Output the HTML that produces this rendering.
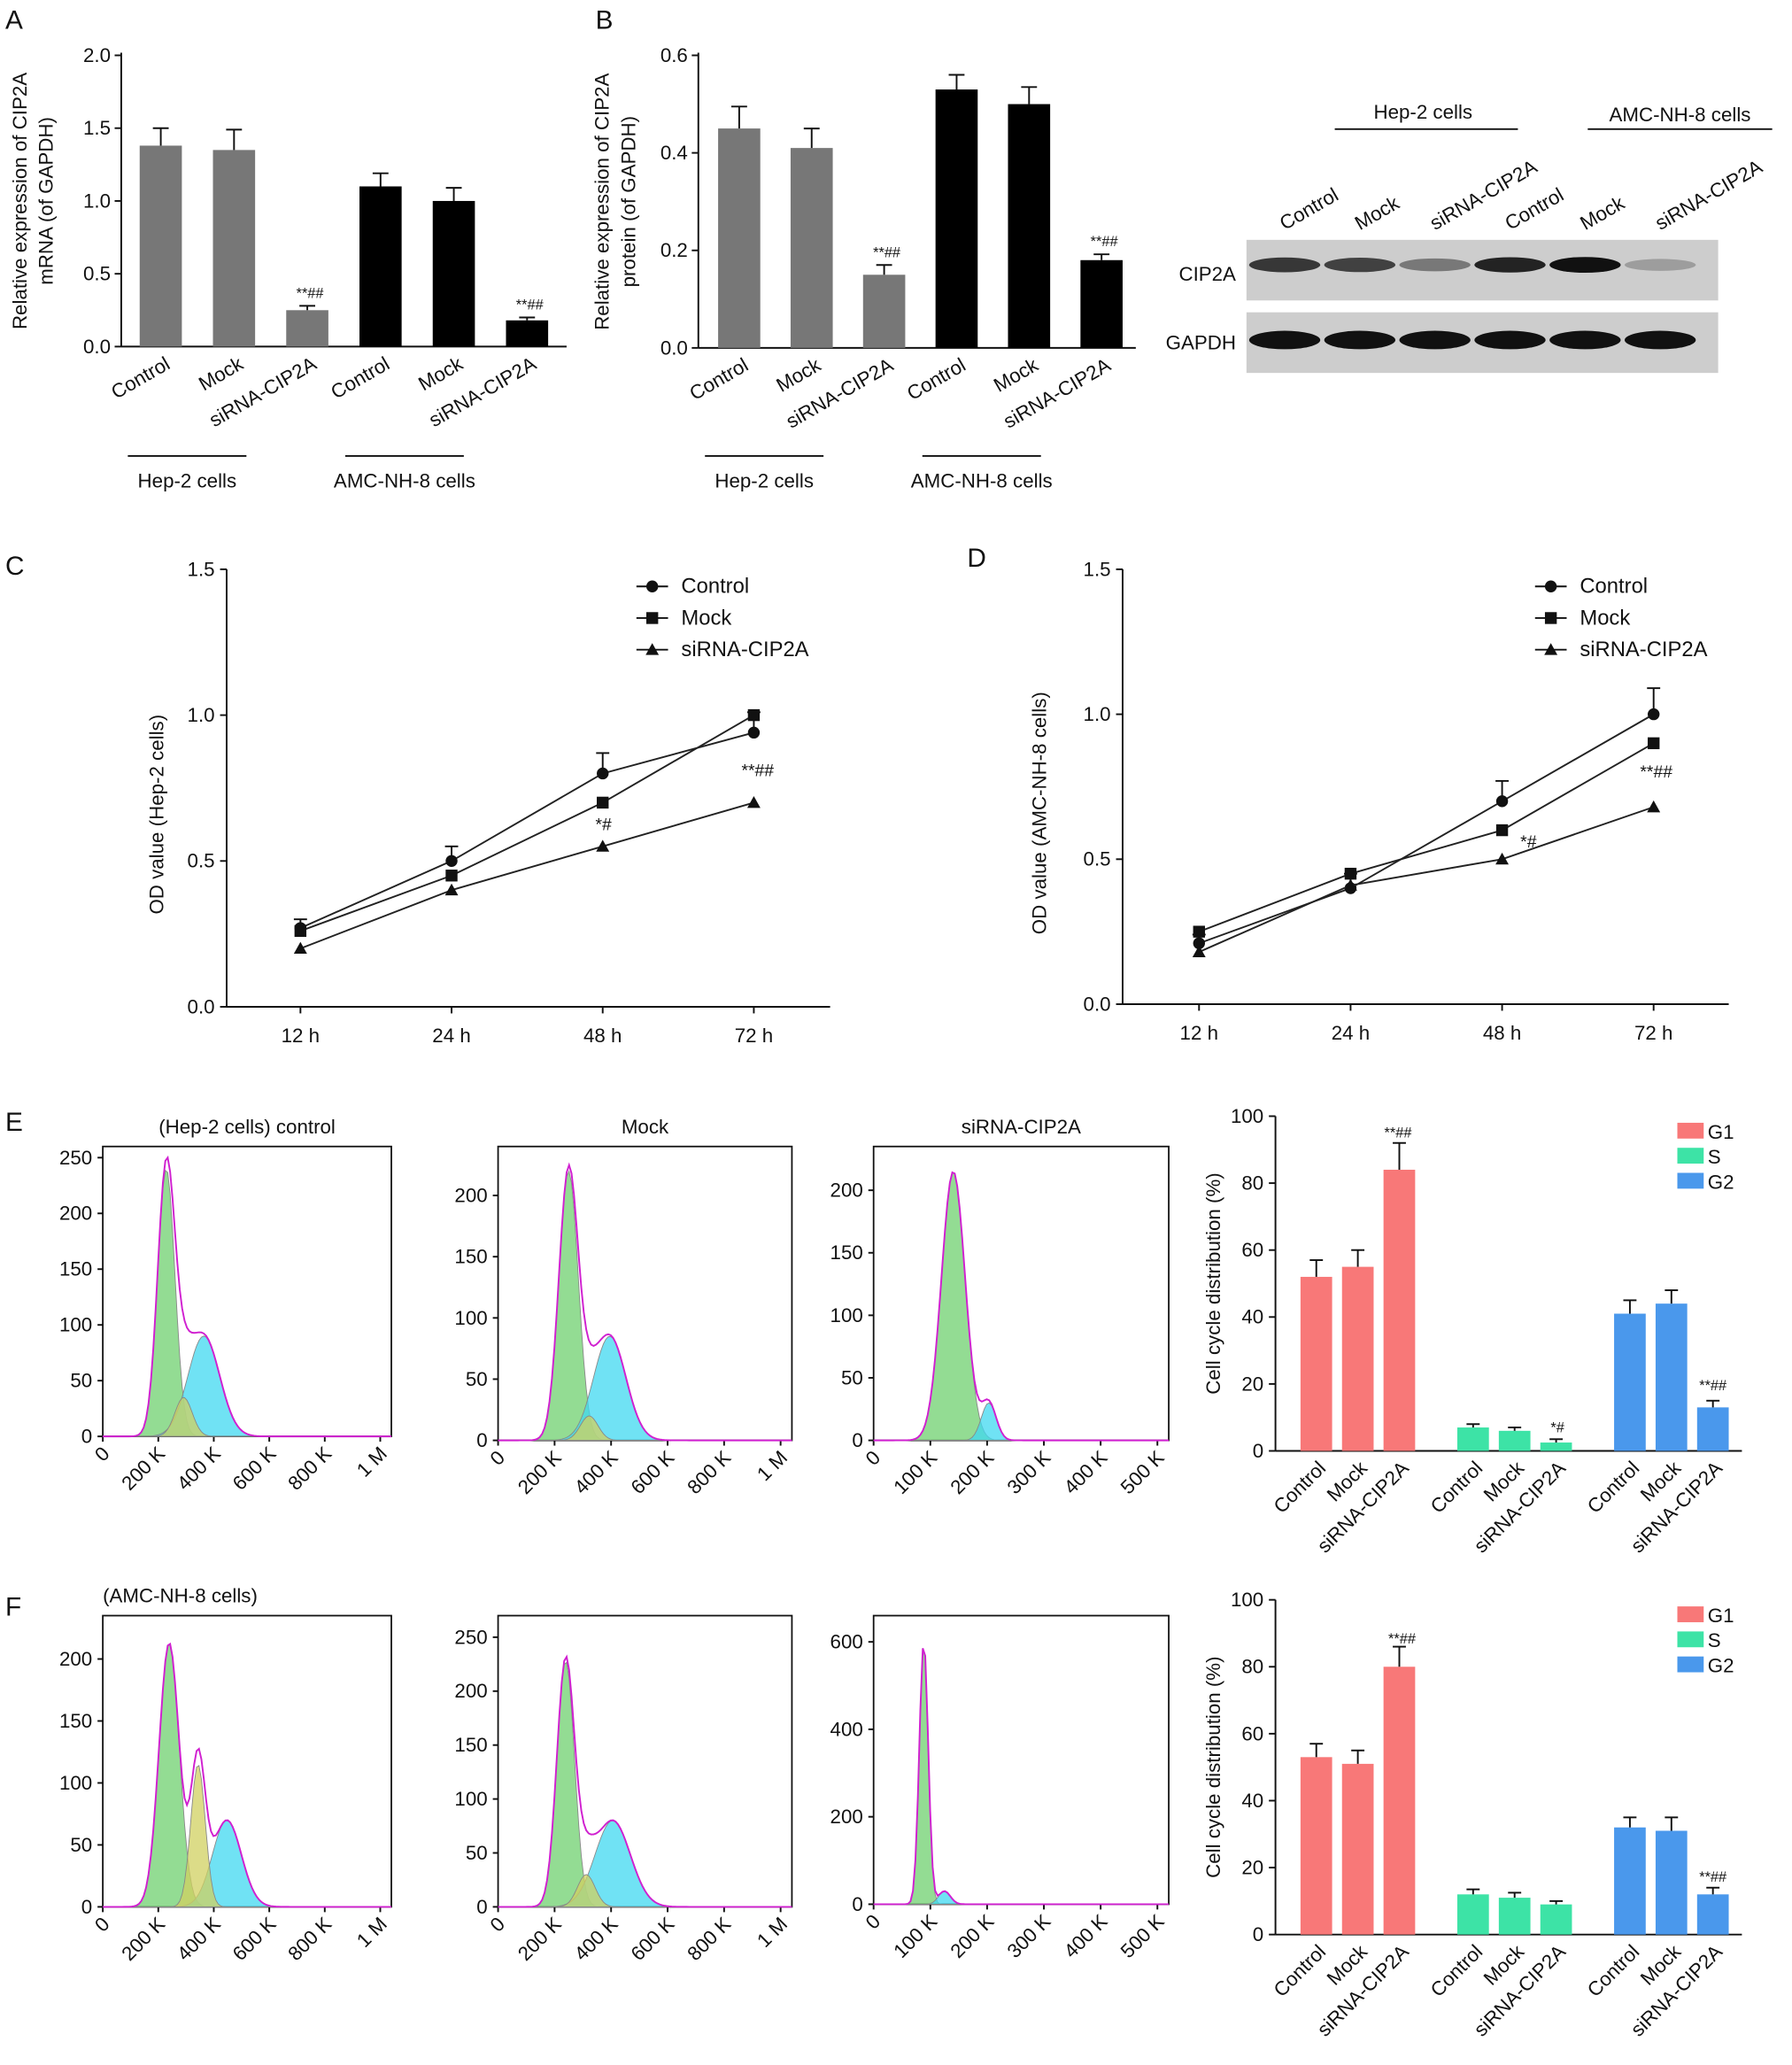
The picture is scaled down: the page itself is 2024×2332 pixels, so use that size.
<!DOCTYPE html>
<html><head><meta charset="utf-8">
<style>
html,body{margin:0;padding:0;background:#fff;}
svg{display:block;font-family:"Liberation Sans",sans-serif;}
</style></head>
<body>
<svg id="fig" width="2024" height="2332" viewBox="0 0 1360 1567" xmlns="http://www.w3.org/2000/svg">
<rect x="0" y="0" width="1360" height="1567" fill="#fff"/>
</svg>
<script>
// ---------- DATA ----------
const aCats = ["Control","Mock","siRNA-CIP2A","Control","Mock","siRNA-CIP2A"];
const aVals = [1.38,1.35,0.25,1.10,1.00,0.18];
const aErrs = [0.12,0.14,0.03,0.09,0.09,0.02];
const aTicks = [0.0,0.5,1.0,1.5,2.0];
const bVals = [0.45,0.41,0.15,0.53,0.50,0.18];
const bErrs = [0.045,0.04,0.02,0.03,0.035,0.012];
const bTicks = [0.0,0.2,0.4,0.6];
const timeCats = ["12 h","24 h","48 h","72 h"];
const lineTicks = [0.0,0.5,1.0,1.5];
const cControl = [0.27,0.50,0.80,0.94];
const cMock = [0.26,0.45,0.70,1.00];
const cSi = [0.20,0.40,0.55,0.70];
const cErr = [0.03,0.05,0.07,0.07];
const dControl = [0.21,0.40,0.70,1.00];
const dMock = [0.25,0.45,0.60,0.90];
const dSi = [0.18,0.41,0.50,0.68];
const dErr = [0.03,0.05,0.07,0.09];
const cycCats = ["Control","Mock","siRNA-CIP2A"];
const eG1 = [52,55,84]; const eS = [7,6,2.5]; const eG2 = [41,44,13];
const eG1e = [5,5,8]; const eSe = [1,1,1]; const eG2e = [4,4,2];
const fG1 = [53,51,80]; const fS = [12,11,9]; const fG2 = [32,31,12];
const fG1e = [4,4,6]; const fSe = [1.5,1.5,1]; const fG2e = [3,4,2];
const cycTicks = [0,20,40,60,80,100];

// ---------- helpers ----------
const svg = document.getElementById('fig');
const NS = "http://www.w3.org/2000/svg";
function mk(tag, attrs, parent){
  const e = document.createElementNS(NS, tag);
  for (const k in attrs) e.setAttribute(k, attrs[k]);
  (parent||svg).appendChild(e);
  return e;
}
function txt(x,y,s,size,anchor,extra){
  const t = mk('text',Object.assign({x:x,y:y,'font-size':size||15,'text-anchor':anchor||'middle',fill:'#111'},extra||{}));
  t.textContent = s;
  
  
  return t;
}
function ln(x1,y1,x2,y2,w,c){
  const l = mk('line',{x1:x1,y1:y1,x2:x2,y2:y2,stroke:c||'#111','stroke-width':w||1.3});
  
  
  return l;
}

// Panel letters
[["A",4,22],["B",452,22],["C",4,436],["D",734,430],["E",4,858],["F",4,1226]].forEach(p=>{
  const t=txt(p[1],p[2],p[0],20,'start');
  
});

// ---------- bar charts A/B ----------
function barChart(opt){
  const ys = v => opt.y0 - (v - opt.ticks[0])/(opt.ticks[opt.ticks.length-1]-opt.ticks[0])*(opt.y0-opt.y1);
  ln(opt.ax, opt.y1-2, opt.ax, opt.y0);
  ln(opt.ax, opt.y0, opt.ax2, opt.y0);
  opt.ticks.forEach(t=>{
    ln(opt.ax-5, ys(t), opt.ax, ys(t));
    const l=txt(opt.ax-8, ys(t)+5, t.toFixed(1), 15, 'end');
    
  });
  opt.vals.forEach((v,i)=>{
    const cx = opt.x0 + i*opt.step;
    const r = mk('rect',{x:cx-opt.bw/2,y:ys(v),width:opt.bw,height:opt.y0-ys(v),fill:i<3?'#777':'#000'});
    
    
    const top = ys(v+opt.errs[i]);
    ln(cx, ys(v), cx, top); ln(cx-6, top, cx+6, top);
    if(i==2||i==5){ const s=txt(cx+2, top-6, "**##", 11);  }
    const lab = txt(0,0,aCats[i],15,'end',{transform:`translate(${cx+8},${opt.y0+16}) rotate(-30)`});
    
  });
  const yt = txt(0,0,opt.ytitle1,15,'middle',{transform:`translate(${opt.ytx},${(opt.y0+opt.y1)/2}) rotate(-90)`});
  
  const yt2 = txt(0,0,opt.ytitle2,15,'middle',{transform:`translate(${opt.ytx+20},${(opt.y0+opt.y1)/2}) rotate(-90)`});
  
  ln(opt.g1[0],346,opt.g1[1],346); ln(opt.g2[0],346,opt.g2[1],346);
  txt((opt.g1[0]+opt.g1[1])/2,370,"Hep-2 cells",15);
  txt((opt.g2[0]+opt.g2[1])/2,370,"AMC-NH-8 cells",15);
}
barChart({ax:92,ax2:430,y0:263,y1:42,ticks:aTicks,vals:aVals,errs:aErrs,x0:122,step:55.6,bw:32,
  ytitle1:"Relative expression of CIP2A",ytitle2:"mRNA (of GAPDH)",ytx:20,g1:[97,187],g2:[262,352]});
barChart({ax:530,ax2:862,y0:264,y1:42,ticks:bTicks,vals:bVals,errs:bErrs,x0:561,step:55,bw:32,
  ytitle1:"Relative expression of CIP2A",ytitle2:"protein (of GAPDH)",ytx:462,g1:[535,625],g2:[700,790]});

// ---------- Western blot ----------
ln(1013,98,1152,98); ln(1205,98,1345,98);
txt(1080,90,"Hep-2 cells",15); txt(1275,92,"AMC-NH-8 cells",15);
["Control","Mock","siRNA-CIP2A","Control","Mock","siRNA-CIP2A"].forEach((s,i)=>{
  const x=975+i*57;
  const t=txt(0,0,s,15,'start',{transform:`translate(${x},${175}) rotate(-30)`});
  
});
txt(938,213,"CIP2A",15,'end'); txt(938,265,"GAPDH",15,'end');
const blotCip = [0.8,0.75,0.45,0.9,1.0,0.25];
const blotGap = [1,1,1,1,1,1];
[[182,blotCip,"cip2a-blot"],[237,blotGap,"gapdh-blot"]].forEach(b=>{
  const r=mk('rect',{x:946,y:b[0],width:358,height:46,fill:'#cdcdcd'});
  
  
  b[1].forEach((v,i)=>{
    const e=mk('ellipse',{cx:975+i*57,cy:b[0]+(b[0]==182?19:21),rx:27,ry:b[0]==182?4+v*2:7,fill:'#111','fill-opacity':v});
    
    
  });
});

// ---------- line charts C/D ----------
function lineChart(o){
  const ys = v => o.y0 - v/1.5*(o.y0-o.y1);
  ln(o.ax,o.y1,o.ax,o.y0); ln(o.ax,o.y0,o.ax2,o.y0);
  lineTicks.forEach(t=>{ln(o.ax-5,ys(t),o.ax,ys(t)); const l=txt(o.ax-9,ys(t)+5,t.toFixed(1),15,'end'); });
  timeCats.forEach((c,i)=>{const x=o.x0+i*o.step; ln(x,o.y0,x,o.y0+5); const l=txt(x,o.y0+27,c,15); });
  const yt=txt(0,0,o.ytitle,15,'middle',{transform:`translate(${o.ytx},${(o.y0+o.y1)/2+20}) rotate(-90)`});
  
  const series=[[o.c,'circle','Control'],[o.m,'square','Mock'],[o.s,'tri','siRNA-CIP2A']];
  series.forEach((sr,si)=>{
    const pts=sr[0].map((v,i)=>[o.x0+i*o.step,ys(v)]);
    const p=mk('polyline',{points:pts.map(q=>q.join(',')).join(' '),fill:'none',stroke:'#222','stroke-width':1.3});
    
    
    pts.forEach((q,i)=>{
      if(si==0){const e=ys(sr[0][i]+o.e[i]); ln(q[0],q[1],q[0],e); ln(q[0]-5,e,q[0]+5,e);}
      marker(q[0],q[1],sr[1]);
    });
    const ly=o.ly+si*24;
    ln(o.lx-12,ly,o.lx+12,ly); marker(o.lx,ly,sr[1]);
    const l=txt(o.lx+22,ly+5,sr[2],16,'start'); 
  });
  o.sig.forEach(s=>{const t=txt(s[0],s[1],s[2],13); });
}
function marker(x,y,type){
  let e;
  if(type=='circle') e=mk('circle',{cx:x,cy:y,r:4.5,fill:'#111'});
  else if(type=='square') e=mk('rect',{x:x-4.5,y:y-4.5,width:9,height:9,fill:'#111'});
  else e=mk('polygon',{points:`${x},${y-5} ${x-5},${y+4} ${x+5},${y+4}`,fill:'#111'});
  
  
}
lineChart({ax:172,ax2:630,y0:764,y1:432,x0:228,step:114.7,c:cControl,m:cMock,s:cSi,e:cErr,
  ytitle:"OD value (Hep-2 cells)",ytx:124,lx:495,ly:445,sig:[[458,630,"*#"],[575,589,"**##"]]});
lineChart({ax:852,ax2:1312,y0:762,y1:432,x0:910,step:115,c:dControl,m:dMock,s:dSi,e:dErr,
  ytitle:"OD value (AMC-NH-8 cells)",ytx:794,lx:1177,ly:445,sig:[[1160,643,"*#"],[1257,590,"**##"]]});

// ---------- cell cycle bar charts ----------
function cycChart(o){
  const ys=v=>o.y0-v/100*(o.y0-o.y1);
  ln(o.ax,o.y1,o.ax,o.y0); ln(o.ax,o.y0,1322,o.y0);
  cycTicks.forEach(t=>{ln(o.ax-5,ys(t),o.ax,ys(t)); const l=txt(o.ax-9,ys(t)+5,t,15,'end'); });
  const yt=txt(0,0,"Cell cycle distribution (%)",15,'middle',{transform:`translate(${o.ax-42},${(o.y0+o.y1)/2}) rotate(-90)`});
  
  const groups=[[o.g1,o.g1e,'#f87878','G1'],[o.s,o.se,'#3de3a6','S'],[o.g2,o.g2e,'#4a98ec','G2']];
  groups.forEach((g,gi)=>{
    g[0].forEach((v,i)=>{
      const cx=999+gi*119+i*31.5;
      const r=mk('rect',{x:cx-12,y:ys(v),width:24,height:o.y0-ys(v),fill:g[2]});
      
      
      const t=ys(v+g[1][i]); ln(cx,ys(v),cx,t); ln(cx-5,t,cx+5,t);
      const l=txt(0,0,cycCats[i],15,'end',{transform:`translate(${cx+8},${o.y0+14}) rotate(-45)`});
      
    });
    const lr=mk('rect',{x:1273,y:o.y1+5+gi*19,width:20,height:12,fill:g[2]});
    
    
    const lt=txt(1296,o.y1+17+gi*19,g[3],15,'start'); 
  });
  o.sig.forEach(s=>{const t=txt(s[0],s[1],s[2],11); });
}
cycChart({ax:968,y0:1101,y1:847,g1:eG1,s:eS,g2:eG2,g1e:eG1e,se:eSe,g2e:eG2e,
  sig:[[1061,863,"**##"],[1182,1087,"*#"],[1300,1055,"**##"]]});
cycChart({ax:968,y0:1468,y1:1214,g1:fG1,s:fS,g2:fG2,g1e:fG1e,se:fSe,g2e:fG2e,
  sig:[[1064,1247,"**##"],[1300,1428,"**##"]]});

// ---------- histograms ----------
const histPeaks = [
  // [boxX, boxY, w, h, yMax, xMax, ticks, peaks:[center, sigma, height, color]]
  {x:78,y:870,w:219,h:220,ym:260,yt:[0,50,100,150,200,250],xt:["0","200 K","400 K","600 K","800 K","1 M"],
   pk:[[0.22,0.03,240,'#6fd06f'],[0.35,0.055,90,'#40d8f0'],[0.28,0.03,35,'#d0d060']],title:"(Hep-2 cells) control"},
  {x:378,y:870,w:223,h:223,ym:240,yt:[0,50,100,150,200],xt:["0","200 K","400 K","600 K","800 K","1 M"],
   pk:[[0.24,0.033,220,'#6fd06f'],[0.38,0.055,85,'#40d8f0'],[0.31,0.03,20,'#d0d060']],title:"Mock"},
  {x:663,y:870,w:224,h:223,ym:235,yt:[0,50,100,150,200],xt:["0","100 K","200 K","300 K","400 K","500 K"],
   pk:[[0.27,0.04,215,'#6fd06f'],[0.39,0.025,30,'#40d8f0']],title:"siRNA-CIP2A"},
  {x:78,y:1226,w:219,h:221,ym:235,yt:[0,50,100,150,200],xt:["0","200 K","400 K","600 K","800 K","1 M"],
   pk:[[0.23,0.035,213,'#6fd06f'],[0.43,0.05,70,'#40d8f0'],[0.33,0.025,115,'#d0d060']],title:"(AMC-NH-8 cells)"},
  {x:378,y:1226,w:223,h:221,ym:270,yt:[0,50,100,150,200,250],xt:["0","200 K","400 K","600 K","800 K","1 M"],
   pk:[[0.23,0.03,228,'#6fd06f'],[0.39,0.06,80,'#40d8f0'],[0.3,0.03,30,'#d0d060']],title:""},
  {x:663,y:1226,w:224,h:219,ym:660,yt:[0,200,400,600],xt:["0","100 K","200 K","300 K","400 K","500 K"],
   pk:[[0.17,0.015,600,'#6fd06f'],[0.24,0.02,30,'#40d8f0']],title:""}
];
histPeaks.forEach((h,hi)=>{
  const b=mk('rect',{x:h.x,y:h.y,width:h.w,height:h.h,fill:'none',stroke:'#111','stroke-width':1.2});
  
  
  const ys=v=>h.y+h.h-v/h.ym*h.h;
  h.yt.forEach(t=>{ln(h.x-4,ys(t),h.x,ys(t)); const l=txt(h.x-8,ys(t)+5,t,15,'end'); });
  h.xt.forEach((t,i)=>{const x=h.x+i*h.w/5.2; ln(x,h.y+h.h,x,h.y+h.h+4); const l=txt(0,0,t,15,'end',{transform:`translate(${x+6},${h.y+h.h+14}) rotate(-45)`}); });
  if(h.title){const t=txt(h.x+(hi==3?0:h.w/2),h.y-10,h.title,15,hi==3?'start':'middle'); }
  const N=120;
  const total=[];
  for(let k=0;k<=N;k++) total.push(0);
  h.pk.forEach(p=>{
    let d=`M${h.x},${h.y+h.h}`;
    for(let k=0;k<=N;k++){const f=k/N;const v=p[2]*Math.exp(-0.5*((f-p[0])/p[1])**2);total[k]+=v;d+=` L${h.x+f*h.w},${ys(v)}`;}
    d+=` L${h.x+h.w},${h.y+h.h} Z`;
    const pa=mk('path',{d:d,fill:p[3],'fill-opacity':0.75,stroke:'#888','stroke-width':0.6});
    
    
  });
  let d='';
  total.forEach((v,k)=>{d+=(k?' L':'M')+(h.x+k/N*h.w)+','+ys(v);});
  const o=mk('path',{d:d,fill:'none',stroke:'#d020d0','stroke-width':1.3});
  
  
});
</script>
</body></html>
